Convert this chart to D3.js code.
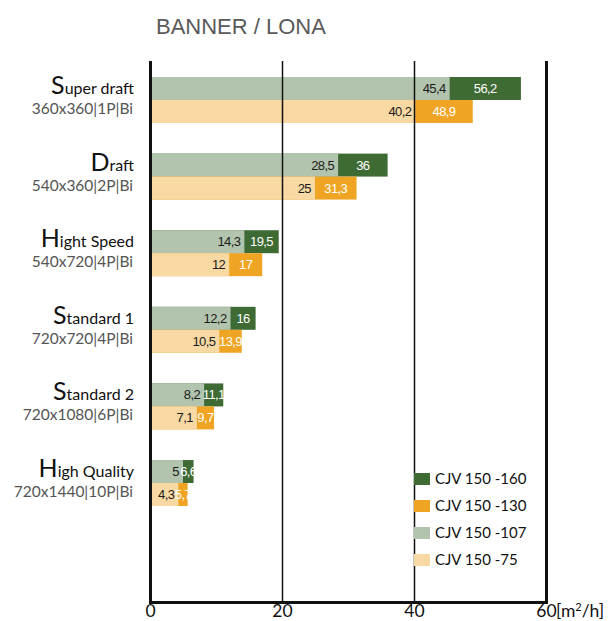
<!DOCTYPE html>
<html>
<head>
<meta charset="utf-8">
<script src="https://cdn.jsdelivr.net/npm/d3@7"></script>
<style>
  body { margin: 0; background: #fff; }
  svg { display: block; }
</style>
</head>
<body>
<div id="chart"></div>
<script>
// data
var categories = ['Super draft', 'Draft', 'Hight Speed', 'Standard 1', 'Standard 2', 'High Quality'];
var subLabels = ['360x360|1P|Bi', '540x360|2P|Bi', '540x720|4P|Bi', '720x720|4P|Bi', '720x1080|6P|Bi', '720x1440|10P|Bi'];
var cjv160 = [56.2, 36, 19.5, 16, 11.1, 6.6];
var cjv107 = [45.4, 28.5, 14.3, 12.2, 8.2, 5];
var cjv130 = [48.9, 31.3, 17, 13.9, 9.7, 5.7];
var cjv75 = [40.2, 25, 12, 10.5, 7.1, 4.3];
var xTicks = [0, 20, 40, 60];
var seriesNames = ['CJV 150 -160', 'CJV 150 -130', 'CJV 150 -107', 'CJV 150 -75'];
var seriesColors = ['#3e6a34', '#efa523', '#b2c4ae', '#f8d9a4'];

var chartW = 610, chartH = 621;
var plotTop = 61, plotBottom = 602;

var svg = d3.select('#chart')
    .append('svg')
    .attr('width', chartW)
    .attr('height', chartH);

var x = d3.scaleLinear()
    .domain([0, 60])
    .range([150, 546]);

var y = d3.scaleBand()
    .domain(categories)
    .range([77, 506])
    .paddingInner(0.4)
    .paddingOuter(0);

var rowH = y.bandwidth() / 2;

// title
svg.append('text')
    .attr('x', 156)
    .attr('y', 34)
    .attr('font-family', 'Liberation Sans, Arial, sans-serif')
    .attr('font-size', 22)
    .attr('fill', '#5a5a5a')
    .text('BANNER / LONA');

var rows = categories.map(function(c, i) {
    return {
        cat: c,
        sub: subLabels[i],
        v160: cjv160[i], v107: cjv107[i], v130: cjv130[i], v75: cjv75[i]
    };
});

var g = svg.selectAll('g.cat')
    .data(rows)
    .enter()
    .append('g')
    .attr('class', 'cat');

// bars: top row green, bottom row orange
function bar(sel, key, color, off) {
    sel.append('rect')
        .attr('x', x(0))
        .attr('y', function(d) { return y(d.cat) + off })
        .attr('width', function(d) { return x(d[key]) - x(0) })
        .attr('height', rowH)
        .attr('fill', color);
}
bar(g, 'v160', seriesColors[0], 0);
bar(g, 'v107', seriesColors[2], 0);
bar(g, 'v130', seriesColors[1], rowH);
bar(g, 'v75', seriesColors[3], rowH);

// value labels
var fmt = function(v) { return String(v).replace('.', ',') };
function darkLabel(sel, key, lightKey, off) {
    sel.append('text')
        .attr('x', function(d) { return (x(d[key]) + x(d[lightKey])) / 2 })
        .attr('y', function(d) { return y(d.cat) + off + rowH / 2 + 4.5 })
        .attr('text-anchor', 'middle')
        .attr('font-family', 'Liberation Sans, Arial, sans-serif')
        .attr('font-size', 13)
        .attr('letter-spacing', -0.6)
        .attr('fill', '#fff')
        .text(function(d) { return fmt(d[key]) });
}
function lightLabel(sel, key, off) {
    sel.append('text')
        .attr('x', function(d) { return x(d[key]) - 4 })
        .attr('y', function(d) { return y(d.cat) + off + rowH / 2 + 4.5 })
        .attr('text-anchor', 'end')
        .attr('font-family', 'Liberation Sans, Arial, sans-serif')
        .attr('font-size', 13)
        .attr('letter-spacing', -0.6)
        .attr('fill', '#1a1a1a')
        .text(function(d) { return fmt(d[key]) });
}
darkLabel(g, 'v160', 'v107', 0);
lightLabel(g, 'v107', 0);
darkLabel(g, 'v130', 'v75', rowH);
lightLabel(g, 'v75', rowH);

// category labels
var catLabel = g.append('text')
    .attr('x', 134)
    .attr('y', function(d) { return y(d.cat) + 17 })
    .attr('text-anchor', 'end')
    .attr('font-family', 'Lato, sans-serif')
    .attr('fill', '#111');
catLabel.append('tspan')
    .attr('font-size', 25)
    .text(function(d) { return d.cat.charAt(0) });
catLabel.append('tspan')
    .attr('font-size', 16)
    .text(function(d) { return d.cat.slice(1) });

g.append('text')
    .attr('x', 133)
    .attr('y', function(d) { return y(d.cat) + 37 })
    .attr('text-anchor', 'end')
    .attr('font-family', 'Lato, sans-serif')
    .attr('font-size', 15.5)
    .attr('fill', '#555')
    .text(function(d) { return d.sub });

// axis + grid lines
var axis = svg.append('g')
    .attr('transform', 'translate(0,' + plotBottom + ')')
    .call(d3.axisBottom(x)
        .tickValues(xTicks)
        .tickSize(-(plotBottom - plotTop))
        .tickPadding(4)
        .tickFormat(function(d) { return d })
    );

axis.select('.domain')
    .attr('stroke', '#111')
    .attr('stroke-width', 3);

axis.selectAll('.tick line')
    .attr('stroke', '#111')
    .attr('stroke-width', function(d) { return (d == 0 || d == 60) ? 3 : 1.5 });

axis.selectAll('.tick text')
    .attr('font-family', 'Lato, sans-serif')
    .attr('font-size', 17.5)
    .attr('fill', '#111')
    .attr('dy', '0.6em');

axis.append('text')
    .attr('x', x(60) + 10)
    .attr('y', 15)
    .attr('font-family', 'Lato, sans-serif')
    .attr('font-size', 17.5)
    .attr('fill', '#111')
    .attr('text-anchor', 'start')
    .html('[m<tspan font-size="11" dy="-6">2</tspan><tspan dy="6">/h]</tspan>');

// legend
var legend = svg.selectAll('g.legend')
    .data(seriesNames)
    .enter()
    .append('g')
    .attr('class', 'legend')
    .attr('transform', function(d, i) { return 'translate(414,' + (473 + i * 27) + ')' });

legend.append('rect')
    .attr('width', 16)
    .attr('height', 12)
    .attr('fill', function(d, i) { return seriesColors[i] });

legend.append('text')
    .attr('x', 21)
    .attr('y', 11)
    .attr('font-family', 'Lato, sans-serif')
    .attr('font-size', 15)
    .attr('fill', '#111')
    .text(function(d) { return d });
</script>
</body>
</html>
